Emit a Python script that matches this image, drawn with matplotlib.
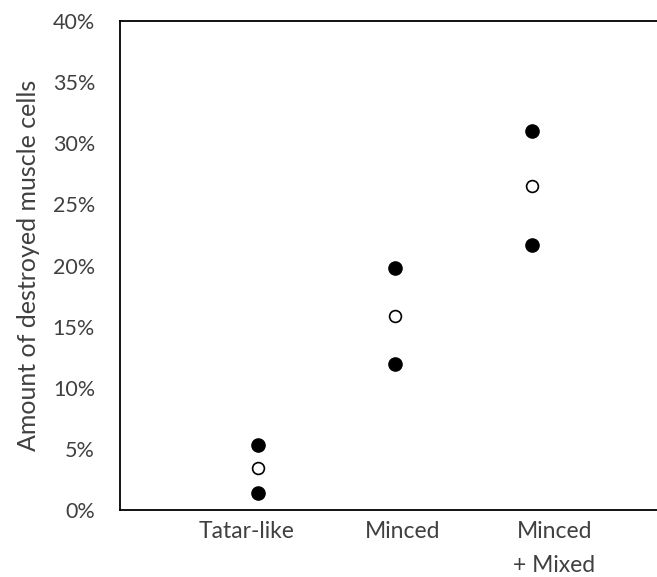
import matplotlib
matplotlib.use("Agg")
import matplotlib.pyplot as plt
from matplotlib.ticker import PercentFormatter
import matplotlib.transforms as mtransforms

plt.rcParams["font.family"] = ["Lato", "DejaVu Sans"]

# data (fractions of destroyed cells)
categories = ["Tatar-like", "Minced", "Minced\n+ Mixed"]
upper = [5.3, 19.8, 31.0]
mean = [3.4, 15.9, 26.5]
lower = [1.4, 11.95, 21.7]
yticks = [0, 5, 10, 15, 20, 25, 30, 35, 40]

TXT = "#404040"

fig = plt.figure(figsize=(6.57, 5.77), dpi=100)
ax = fig.add_axes([120 / 657, 67 / 577, 550 / 657, 489 / 577])

x = list(range(1, len(categories) + 1))
ax.plot(x, upper, "o", color="black", ms=9.5, ls="none")
ax.plot(x, lower, "o", color="black", ms=9.5, ls="none")
ax.plot(x, mean, "o", mfc="white", mec="black", mew=1.2, ms=8.5, ls="none")

ax.set_xlim(0, 4)
ax.set_ylim(0, 40)
ax.set_yticks(yticks)
ax.yaxis.set_major_formatter(PercentFormatter(decimals=0))
ax.set_xticks(x)
ax.set_xticklabels(categories, fontsize=16.5, color=TXT, va="top", linespacing=1.75)
ax.tick_params(axis="y", length=0, pad=18, labelsize=15.5, labelcolor=TXT)
ax.tick_params(axis="x", length=0, pad=8)

# nudge category labels like the original layout
for lab, dx in zip(ax.get_xticklabels(), [-11, 8, 22]):
    lab.set_transform(lab.get_transform() + mtransforms.ScaledTranslation(dx / 100, 0, fig.dpi_scale_trans))

for s in ax.spines.values():
    s.set_linewidth(1.3)
    s.set_color("black")

ax.set_ylabel("Amount of destroyed muscle cells", fontsize=18, color=TXT, labelpad=9)

fig.savefig("out.png", dpi=100, facecolor="white")
